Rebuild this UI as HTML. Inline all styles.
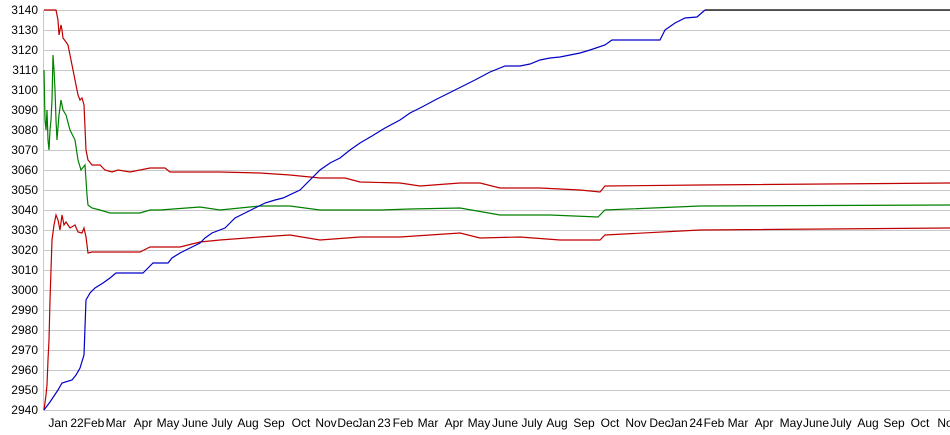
<!DOCTYPE html>
<html><head><meta charset="utf-8"><style>
html,body{margin:0;padding:0;background:#fff}
svg{display:block}
text{font-family:"Liberation Sans",sans-serif;font-size:12px;fill:#000}
</style></head><body>
<svg width="950" height="435" viewBox="0 0 950 435">
<g stroke="#c8c8c8" stroke-width="1">
<line x1="44" x2="950" y1="10.5" y2="10.5"/><line x1="44" x2="950" y1="30.5" y2="30.5"/><line x1="44" x2="950" y1="50.5" y2="50.5"/><line x1="44" x2="950" y1="70.5" y2="70.5"/><line x1="44" x2="950" y1="90.5" y2="90.5"/><line x1="44" x2="950" y1="110.5" y2="110.5"/><line x1="44" x2="950" y1="130.5" y2="130.5"/><line x1="44" x2="950" y1="150.5" y2="150.5"/><line x1="44" x2="950" y1="170.5" y2="170.5"/><line x1="44" x2="950" y1="190.5" y2="190.5"/><line x1="44" x2="950" y1="210.5" y2="210.5"/><line x1="44" x2="950" y1="230.5" y2="230.5"/><line x1="44" x2="950" y1="250.5" y2="250.5"/><line x1="44" x2="950" y1="270.5" y2="270.5"/><line x1="44" x2="950" y1="290.5" y2="290.5"/><line x1="44" x2="950" y1="310.5" y2="310.5"/><line x1="44" x2="950" y1="330.5" y2="330.5"/><line x1="44" x2="950" y1="350.5" y2="350.5"/><line x1="44" x2="950" y1="370.5" y2="370.5"/><line x1="44" x2="950" y1="390.5" y2="390.5"/><line x1="44" x2="950" y1="410.5" y2="410.5"/>
<line x1="43.5" x2="43.5" y1="10" y2="411"/>
</g>
<g text-anchor="end">
<text x="38" y="14">3140</text><text x="38" y="34">3130</text><text x="38" y="54">3120</text><text x="38" y="74">3110</text><text x="38" y="94">3100</text><text x="38" y="114">3090</text><text x="38" y="134">3080</text><text x="38" y="154">3070</text><text x="38" y="174">3060</text><text x="38" y="194">3050</text><text x="38" y="214">3040</text><text x="38" y="234">3030</text><text x="38" y="254">3020</text><text x="38" y="274">3010</text><text x="38" y="294">3000</text><text x="38" y="314">2990</text><text x="38" y="334">2980</text><text x="38" y="354">2970</text><text x="38" y="374">2960</text><text x="38" y="394">2950</text><text x="38" y="414">2940</text>
</g>
<g text-anchor="middle">
<text x="58" y="427">Jan</text><text x="77" y="427">22</text><text x="94" y="427">Feb</text><text x="116" y="427">Mar</text><text x="143" y="427">Apr</text><text x="168" y="427">May</text><text x="195" y="427">June</text><text x="222" y="427">July</text><text x="248" y="427">Aug</text><text x="274" y="427">Sep</text><text x="301" y="427">Oct</text><text x="326" y="427">Nov</text><text x="348" y="427">Dec</text><text x="366" y="427">Jan</text><text x="384" y="427">23</text><text x="403" y="427">Feb</text><text x="428" y="427">Mar</text><text x="454" y="427">Apr</text><text x="479" y="427">May</text><text x="505" y="427">June</text><text x="532" y="427">July</text><text x="557" y="427">Aug</text><text x="584" y="427">Sep</text><text x="610" y="427">Oct</text><text x="636" y="427">Nov</text><text x="660" y="427">Dec</text><text x="678" y="427">Jan</text><text x="696" y="427">24</text><text x="714" y="427">Feb</text><text x="738" y="427">Mar</text><text x="764" y="427">Apr</text><text x="791" y="427">May</text><text x="816" y="427">June</text><text x="841" y="427">July</text><text x="868" y="427">Aug</text><text x="894" y="427">Sep</text><text x="920" y="427">Oct</text><text x="945" y="427">No</text>
</g>
<g fill="none" stroke-width="1.2">
<polyline stroke="#c00000" points="44,10 56,10 58,20 59,35 61,25 62,30 63,38 66,42 68,45 70,55 72,65 75,80 78,95 80,100 82,98 84,105 86,150 88,160 92,165 100,165 105,170 112,172 118,170 130,172 150,168 165,168 170,172 200,172 220,172 260,173 290,175 320,178 345,178 360,182 400,183 420,186 460,183 480,183 500,188 540,188 580,190 600,192 605,186 700,185 950,183"/>
<polyline stroke="#008000" points="44,70 45,120 46,130 47,110 48,140 49,150 50,130 51,120 52,100 53,55 54,70 55,90 56,120 57,140 59,115 61,100 63,110 66,115 70,130 75,140 78,160 81,170 85,165 87,195 88,205 92,208 100,210 110,213 140,213 150,210 160,210 200,207 220,210 260,206 290,206 320,210 360,210 380,210 410,209 460,208 500,215 550,215 598,217 605,210 700,206 950,205"/>
<polyline stroke="#c00000" points="44,410 46,395 47,385 48,360 49,340 50,300 51,270 52,240 54,225 56,215 58,220 60,230 62,215 64,225 66,222 70,228 75,225 78,232 82,233 84,228 86,237 88,253 92,252 100,252 140,252 150,247 180,247 200,242 220,240 260,237 290,235 320,240 360,237 400,237 460,233 480,238 520,237 560,240 600,240 605,235 700,230 950,228"/>
<polyline stroke="#0000c8" points="44,410 50,402 58,390 62,383 72,380 76,375 80,368 84,355 86,300 90,293 95,288 103,283 110,278 116,273 143,273 148,268 153,263 168,263 172,258 180,253 190,248 200,243 205,238 212,233 225,228 235,218 245,213 255,208 265,203 275,200 283,198 300,190 310,180 320,170 330,163 340,158 350,150 360,143 372,136 385,128 400,120 410,113 422,107 435,100 445,95 455,90 465,85 475,80 490,72 505,66 520,66 530,64 540,60 550,58 560,57 570,55 580,53 590,50 605,45 612,40 660,40 665,30 675,23 685,18 697,17 705,10"/>
<polyline stroke="#000" points="705,10 950,10"/>
</g>
</svg>
</body></html>
